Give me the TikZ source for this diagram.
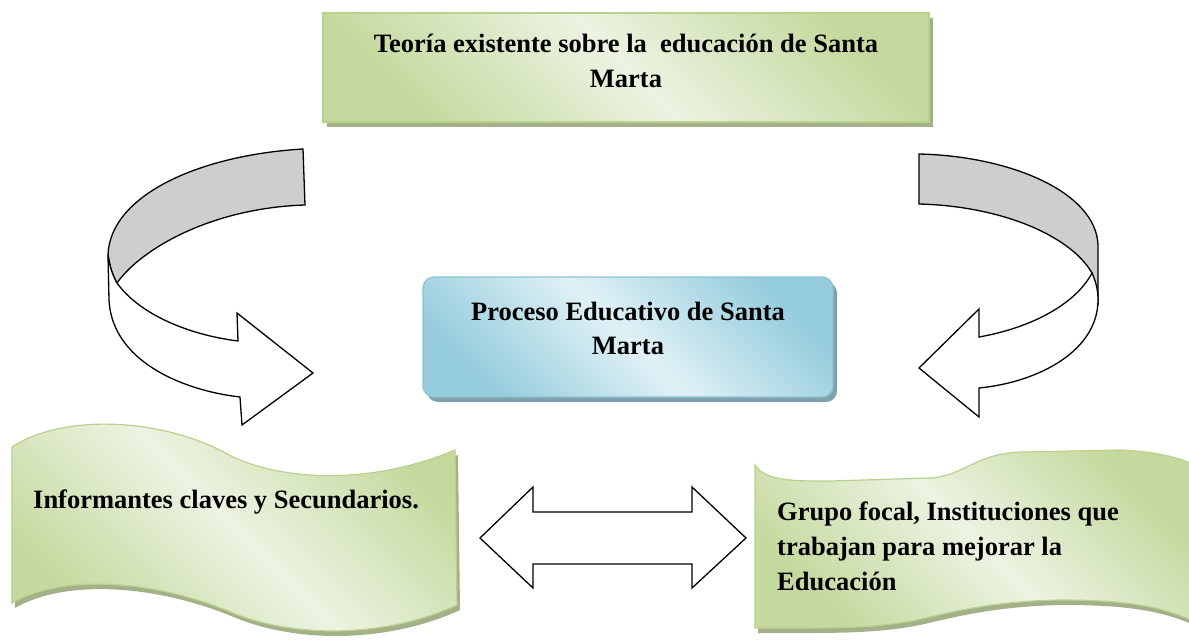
\documentclass[tikz,border=0pt]{standalone}
\usepackage{fontspec}
\setmainfont{Liberation Serif}
\definecolor{gD}{RGB}{197,217,158}
\definecolor{gL}{RGB}{236,243,226}
\definecolor{gB}{RGB}{186,209,142}
\definecolor{gS}{RGB}{163,176,136}
\definecolor{bD}{RGB}{150,205,221}
\definecolor{bL}{RGB}{224,241,246}
\definecolor{bB}{RGB}{140,196,213}
\definecolor{bS}{RGB}{128,160,172}
\definecolor{grayF}{RGB}{206,206,206}
\pgfdeclarehorizontalshading{gband}{100bp}{color(0bp)=(gD); color(25bp)=(gD); color(50bp)=(gL); color(75bp)=(gD); color(100bp)=(gD)}
\pgfdeclarehorizontalshading{bband}{100bp}{color(0bp)=(bD); color(25bp)=(bD); color(50bp)=(bL); color(75bp)=(bD); color(100bp)=(bD)}
\tikzset{
  txt/.style={inner sep=0pt, font=\fontsize{26.5}{35}\selectfont\bfseries},
  arr/.style={draw=black, line width=1.3pt, line join=miter},
  gbox/.style={shading=gband, shading angle=45, draw=gB, line width=1.2pt},
  bbox/.style={shading=bband, shading angle=45, draw=bB, line width=1.2pt},
}
\begin{document}
\begin{tikzpicture}[x=1pt,y=-1pt]
\clip (0,0) rectangle (1189,640);
\fill[white] (0,0) rectangle (1189,640);

% top box
\fill[gS] (327,18) rectangle (933,127);
\shade[gbox] (323,13) rectangle (929,122);
\node[txt, anchor=base, align=center] (top) at (626,87) {Teoría existente sobre la~ educación de Santa\\Marta};

% center box
\fill[bS, rounded corners=11pt] (427,282) rectangle (837,402);
\shade[bbox, rounded corners=11pt] (423,277) rectangle (833,397);
\node[txt, anchor=base, align=center, font=\fontsize{26.5}{34}\selectfont\bfseries] (proc) at (628,354) {Proceso Educativo de Santa\\Marta};

% left banner
\fill[gS, shift={(3,5)}] (12,447) .. controls (60,415) and (160,415) .. (233,457) .. controls (300,487) and (390,478) .. (455,450) -- (457,605) .. controls (390,636) and (300,640) .. (233,613) .. controls (150,578) and (60,575) .. (12,603) -- cycle;
\shade[gbox] (12,447) .. controls (60,415) and (160,415) .. (233,457) .. controls (300,487) and (390,478) .. (455,450) -- (457,605) .. controls (390,636) and (300,640) .. (233,613) .. controls (150,578) and (60,575) .. (12,603) -- cycle;
\node[txt, anchor=base west, align=left] (inf) at (33,508) {Informantes claves y Secundarios.};

% right banner
\fill[gS, shift={(3,5)}] (755,465) .. controls (765,482) and (800,481) .. (830,481) -- (930,478) .. controls (965,476) and (975,453) .. (1023,452) -- (1120,450) .. controls (1150,451) and (1175,456) .. (1195,465) -- (1195,622) .. controls (1160,605) and (1120,600) .. (1060,600) .. controls (1000,601) and (960,610) .. (930,617) .. controls (890,627) and (850,628) .. (800,628) -- (755,628) -- cycle;
\shade[gbox] (755,465) .. controls (765,482) and (800,481) .. (830,481) -- (930,478) .. controls (965,476) and (975,453) .. (1023,452) -- (1120,450) .. controls (1150,451) and (1175,456) .. (1195,465) -- (1195,622) .. controls (1160,605) and (1120,600) .. (1060,600) .. controls (1000,601) and (960,610) .. (930,617) .. controls (890,627) and (850,628) .. (800,628) -- (755,628) -- cycle;
\node[txt, anchor=base west, align=left] (grp) at (777,590) {Grupo focal, Instituciones que\\trabajan para mejorar la\\Educación};

% left curved arrow
\draw[arr, fill=grayF] (303,149) .. controls (200,155) and (110,195) .. (108,255) .. controls (110,268) and (113,276) .. (117,283) .. controls (140,250) and (210,208) .. (305,205) -- cycle;
\draw[arr, fill=white] (108,255) -- (109,300) .. controls (112,360) and (180,390) .. (240,397) -- (242,425) -- (313,373) -- (237,313) -- (238,341) .. controls (190,335) and (140,315) .. (117,283) .. controls (113,276) and (110,268) .. (108,255) -- cycle;

% right curved arrow
\draw[arr, fill=grayF] (919,154) .. controls (1010,156) and (1096,192) .. (1098,245) -- (1098,300) -- (1092,273) .. controls (1070,235) and (1000,206) .. (919,204) -- cycle;
\draw[arr, fill=white] (1092,273) .. controls (1096,282) and (1098,290) .. (1098,300) .. controls (1098,350) and (1040,382) .. (979,388) -- (979,417) -- (919,368) -- (979,309) -- (979,337) .. controls (1030,328) and (1075,305) .. (1092,273) -- cycle;

% double arrow
\draw[arr, fill=white] (480,538) -- (533,487) -- (533,512) -- (692,512) -- (692,487) -- (746,538) -- (692,588) -- (692,564) -- (533,564) -- (533,588) -- cycle;
\end{tikzpicture}
\end{document}
